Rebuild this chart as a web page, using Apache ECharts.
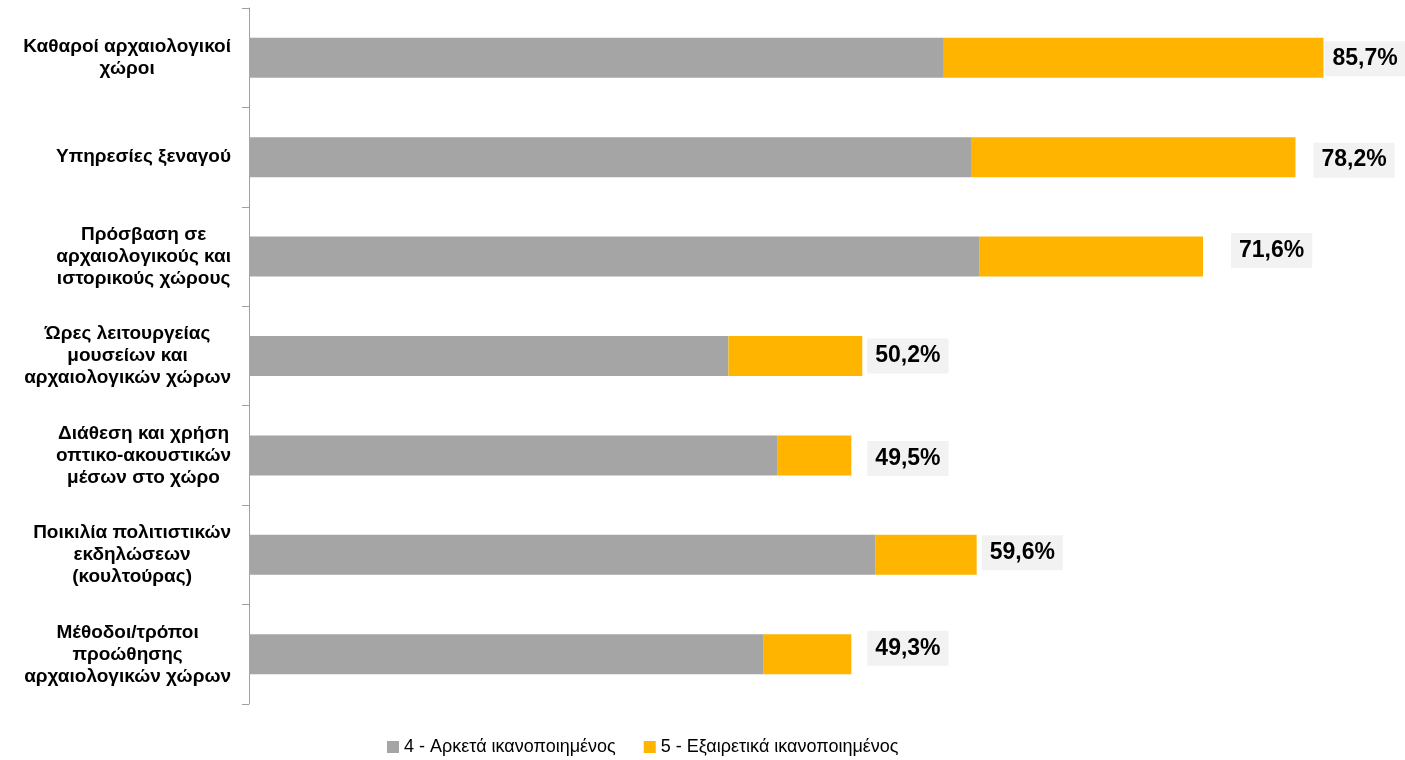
<!DOCTYPE html>
<html>
<head>
<meta charset="utf-8">
<script src="https://cdn.jsdelivr.net/npm/echarts@6/dist/echarts.min.js"></script>
<style>
  html, body { margin: 0; padding: 0; background: #ffffff; }
  #chart { width: 1405px; height: 760px; }
</style>
</head>
<body>
<div id="chart"></div>
<script>
var categories = [
  'Καθαροί αρχαιολογικοί\nχώροι',
  'Υπηρεσίες ξεναγού',
  'Πρόσβαση σε\nαρχαιολογικούς και\nιστορικούς χώρους',
  'Ώρες λειτουργείας\nμουσείων και\nαρχαιολογικών χώρων',
  'Διάθεση και χρήση\nοπτικο-ακουστικών\nμέσων στο χώρο',
  'Ποικιλία πολιτιστικών\nεκδηλώσεων\n(κουλτούρας)',
  'Μέθοδοι/τρόποι\nπροώθησης\nαρχαιολογικών χώρων'
]
var seriesNames = ['4 - Αρκετά ικανοποιημένος', '5 - Εξαιρετικά ικανοποιημένος']
var fairly = [57.1, 59.4, 60.0, 39.4, 43.4, 51.5, 42.3]
var extremely = [31.2, 26.6, 18.4, 11.0, 6.1, 8.3, 7.2]
var totalLabels = ['85,7%', '78,2%', '71,6%', '50,2%', '49,5%', '59,6%', '49,3%']

// the end labels are not placed evenly in the original, nudge them a bit
var labelShift = [[-4, 1], [13, 3], [23, -6], [0, 0], [11, 3], [0, -2], [11, -6]]

var font = '"Liberation Sans", Arial, sans-serif'

// every line of a category name is centred inside its own block
var catRich = {
  c: { fontSize: 19, fontWeight: 'bold', color: '#000000', lineHeight: 22, align: 'center', fontFamily: font }
}

var myChart = echarts.init(document.getElementById('chart'))
myChart.setOption({
  animation: false,
  textStyle: { fontFamily: font },
  grid: { left: 249, right: 0, top: 8, bottom: 56 },
  legend: {
    left: 387,
    top: 738,
    padding: 0,
    icon: 'rect',
    itemWidth: 12,
    itemHeight: 12,
    itemGap: 28,
    textStyle: { fontSize: 18, color: '#000000', fontFamily: font },
    data: seriesNames
  },
  xAxis: {
    type: 'value',
    min: 0,
    max: 95,
    show: false
  },
  yAxis: {
    type: 'category',
    data: categories,
    inverse: true,
    axisLine: { show: true, lineStyle: { color: '#A0A0A0', width: 1 } },
    axisTick: { show: true, length: 7, lineStyle: { color: '#A0A0A0' } },
    axisLabel: {
      margin: 18,
      formatter: function (value) {
        return value.split('\n').map(function (l) { return '{c|' + l + '}' }).join('\n')
      },
      rich: catRich
    }
  },
  series: [
    {
      name: seriesNames[0],
      type: 'bar',
      stack: 'total',
      barWidth: 40,
      itemStyle: { color: '#A5A5A5' },
      data: fairly
    },
    {
      name: seriesNames[1],
      type: 'bar',
      stack: 'total',
      barWidth: 40,
      itemStyle: { color: '#FFB500' },
      label: {
        show: true,
        position: 'right',
        distance: 5,
        formatter: function (p) { return totalLabels[p.dataIndex] },
        backgroundColor: '#F2F2F2',
        padding: [6, 8],
        fontSize: 23,
        fontWeight: 'bold',
        color: '#000000',
        fontFamily: font
      },
      data: extremely.map(function (v, i) {
        return { value: v, label: { offset: labelShift[i] } }
      })
    }
  ]
})
</script>
</body>
</html>
